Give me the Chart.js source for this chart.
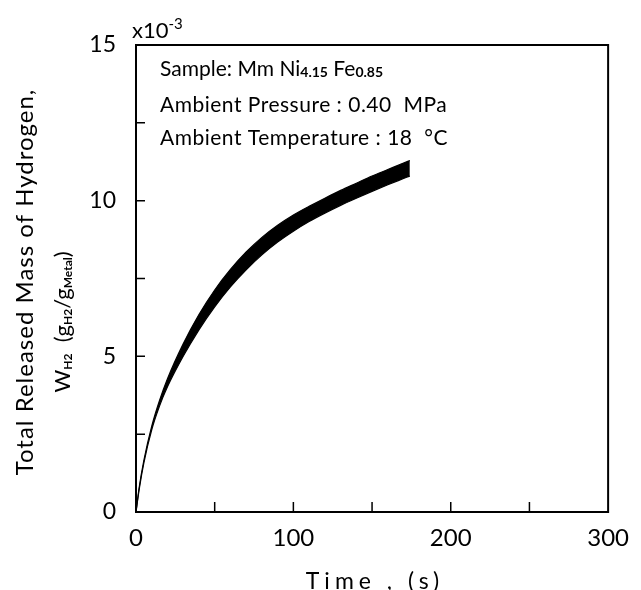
<!DOCTYPE html>
<html>
<head>
<meta charset="utf-8">
<script src="https://cdn.jsdelivr.net/npm/chart.js@4.4.1/dist/chart.umd.min.js"></script>
<style>
  html, body { margin: 0; padding: 0; background: #fff; }
  #wrap { width: 641px; height: 590px; }
</style>
</head>
<body>
<div id="wrap"><canvas id="chart" width="641" height="590"></canvas></div>
<script>
// time in s, released mass in 10^-3 gH2/gMetal (upper and lower edge of the drawn band)
const timeSec = [0, 2, 5, 10, 15, 20, 30, 40, 50, 60, 70, 80, 90, 100, 110, 120, 130, 140, 150, 160, 170, 174];
const upperMass = [0, 0.78, 1.66, 2.76, 3.59, 4.28, 5.40, 6.34, 7.13, 7.79, 8.35, 8.82, 9.21, 9.54, 9.82, 10.08, 10.33, 10.56, 10.79, 11.0, 11.21, 11.29];
const lowerMass = [0, 0.72, 1.58, 2.64, 3.41, 4.02, 5.00, 5.85, 6.59, 7.23, 7.78, 8.26, 8.67, 9.02, 9.33, 9.60, 9.85, 10.08, 10.30, 10.51, 10.71, 10.79];

const xTicks = [0, 100, 200, 300];
const yTicks = [0, 5, 10, 15];

const FONT = 'Lato, "Open Sans", sans-serif';

// draw text made of pieces, some of them subscript
function richWidth(ctx, parts) {
    let w = 0;
    parts.forEach(p => { ctx.font = p.font; w += ctx.measureText(p.t).width; });
    return w;
}
function drawRich(ctx, parts, x, y, align) {
    let cx = align === 'center' ? x - richWidth(ctx, parts) / 2 : x;
    parts.forEach(p => {
        ctx.font = p.font;
        ctx.fillText(p.t, cx, y + (p.dy || 0));
        cx += ctx.measureText(p.t).width;
    });
}

const paperText = {
    id: 'paperText',
    afterDraw(chart) {
        const { ctx, chartArea: a, scales } = chart;
        ctx.save();
        ctx.fillStyle = '#000';
        ctx.strokeStyle = '#000';

        // frame
        ctx.lineWidth = 2;
        ctx.strokeRect(a.left, a.top, a.right - a.left, a.bottom - a.top);

        // inward ticks
        ctx.lineWidth = 1.5;
        ctx.beginPath();
        scales.x.ticks.forEach(t => {
            if (t.value <= 0 || t.value >= 300) return;
            const px = scales.x.getPixelForValue(t.value);
            ctx.moveTo(px, a.bottom);
            ctx.lineTo(px, a.bottom - 10);
        });
        scales.y.ticks.forEach(t => {
            if (t.value <= 0 || t.value >= 15) return;
            const py = scales.y.getPixelForValue(t.value);
            ctx.moveTo(a.left, py);
            ctx.lineTo(a.left + 9, py);
        });
        ctx.stroke();

        ctx.textBaseline = 'alphabetic';
        ctx.textAlign = 'left';

        // x10^-3
        drawRich(ctx, [
            { t: 'x10', font: '22px ' + FONT },
            { t: '-3', font: '15px ' + FONT, dy: -9 }
        ], a.left - 4, 38, 'left');

        // sample info
        const big = '21px ' + FONT, small = 'bold 14px ' + FONT;
        drawRich(ctx, [
            { t: 'Sample: Mm Ni', font: big },
            { t: '4.15', font: small, dy: 1 },
            { t: ' Fe', font: big },
            { t: '0.85', font: small, dy: 1 }
        ], 160, 76, 'left');
        ctx.letterSpacing = '0.5px';
        drawRich(ctx, [{ t: 'Ambient Pressure : 0.40  MPa', font: big }], 160, 112, 'left');
        drawRich(ctx, [{ t: 'Ambient Temperature : 18  °C', font: big }], 160, 145, 'left');

        // x title
        ctx.letterSpacing = '5px';
        drawRich(ctx, [{ t: 'Time , (s)', font: '23px ' + FONT }], (a.left + a.right) / 2 + 3, 589, 'center');

        // y title, two lines rotated
        ctx.letterSpacing = '1px';
        ctx.save();
        ctx.translate(33, 282);
        ctx.rotate(-Math.PI / 2);
        drawRich(ctx, [{ t: 'Total Released Mass of Hydrogen,', font: '24px ' + FONT }], 0, 0, 'center');
        ctx.restore();

        ctx.letterSpacing = '0px';
        ctx.save();
        ctx.translate(70, 322);
        ctx.rotate(-Math.PI / 2);
        const sb = 'bold 12px ' + FONT, nb = '22px ' + FONT;
        drawRich(ctx, [
            { t: 'W', font: nb },
            { t: 'H2', font: sb, dy: 2 },
            { t: '  (g', font: nb },
            { t: 'H2', font: sb, dy: 2 },
            { t: '/g', font: nb },
            { t: 'Metal', font: sb, dy: 2 },
            { t: ')', font: nb }
        ], 0, 0, 'center');
        ctx.restore();

        ctx.restore();
    }
};

new Chart(document.getElementById('chart').getContext('2d'), {
    type: 'line',
    data: {
        datasets: [{
            label: 'upper',
            data: timeSec.map((t, i) => ({ x: t, y: upperMass[i] })),
            borderColor: '#000',
            backgroundColor: '#000',
            borderWidth: 1.2,
            pointRadius: 0,
            cubicInterpolationMode: 'monotone',
            fill: '+1'
        }, {
            label: 'lower',
            data: timeSec.map((t, i) => ({ x: t, y: lowerMass[i] })),
            borderColor: '#000',
            backgroundColor: '#000',
            borderWidth: 1.2,
            pointRadius: 0,
            cubicInterpolationMode: 'monotone',
            fill: false
        }]
    },
    options: {
        responsive: false,
        animation: false,
        layout: { padding: { left: 88, right: 30, top: 45, bottom: 0 } },
        plugins: { legend: { display: false }, tooltip: { enabled: false } },
        scales: {
            x: {
                type: 'linear',
                min: 0, max: 300,
                afterFit: s => { s.height = 78; },
                grid: { display: false, drawTicks: false },
                border: { display: false },
                ticks: {
                    stepSize: 50,
                    padding: 12,
                    maxRotation: 0,
                    color: '#000',
                    font: { family: FONT, size: 24 },
                    callback: v => xTicks.includes(v) ? v : ''
                }
            },
            y: {
                min: 0, max: 15,
                afterFit: s => { s.width = 48; },
                grid: { display: false, drawTicks: false },
                border: { display: false },
                ticks: {
                    stepSize: 2.5,
                    padding: 20,
                    color: '#000',
                    font: { family: FONT, size: 23 },
                    callback: v => yTicks.includes(v) ? v : ''
                }
            }
        }
    },
    plugins: [paperText]
});
</script>
</body>
</html>
